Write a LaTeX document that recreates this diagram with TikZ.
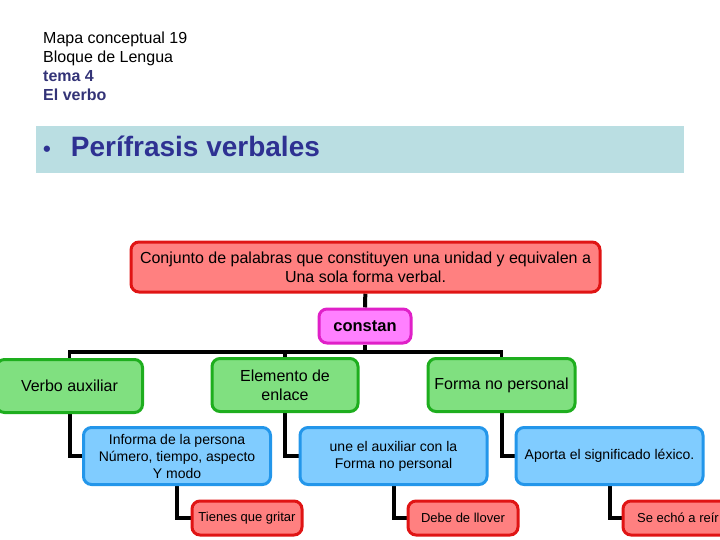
\documentclass[tikz,border=0pt]{standalone}
\usepackage{fontspec}
\setmainfont{Liberation Sans}
\definecolor{redfill}{HTML}{FF8080}
\definecolor{redline}{HTML}{E01414}
\definecolor{pinkfill}{HTML}{FF80FF}
\definecolor{pinkline}{HTML}{E020C8}
\definecolor{greenfill}{HTML}{80E080}
\definecolor{greenline}{HTML}{1EAE1E}
\definecolor{bluefill}{HTML}{80CCFF}
\definecolor{blueline}{HTML}{2396EA}
\definecolor{band}{HTML}{BADEE2}
\definecolor{ink}{HTML}{2E3192}
\definecolor{headink}{HTML}{333377}
\pgfdeclarelayer{background}
\pgfsetlayers{background,main}

\begin{document}
\begin{tikzpicture}[x=1pt, y=-1pt,
                box/.style={draw, rounded corners=8pt, line width=3pt, align=center, inner sep=0pt},
                red node/.style={box, draw=redline, fill=redfill},
                pink node/.style={box, draw=pinkline, fill=pinkfill},
                green node/.style={box, draw=greenline, fill=greenfill, minimum height=53pt,
                  font=\fontsize{16}{19}\selectfont},
                blue node/.style={box, draw=blueline, fill=bluefill, minimum width=187pt,
                  minimum height=57pt, font=\fontsize{14}{17}\selectfont},
                leaf node/.style={red node, minimum width=110pt, minimum height=34pt,
                  font=\fontsize{13}{15}\selectfont},
                head/.style={anchor=base west, inner sep=0pt, font=\fontsize{16}{19}\selectfont},
                link/.style={draw=black, line width=4pt},
                elbow/.style={to path={|- (\tikztotarget) \tikztonodes}},
                branch/.style={to path={-| (\tikztotarget) \tikztonodes}}]

  \useasboundingbox (0,0) rectangle (720,540);
  \clip (0,0) rectangle (720,540);

  % heading
  \node[head] (h1) at (43,44) {Mapa conceptual 19};
  \node[head] (h2) at (43,63) {Bloque de Lengua};
  \node[head, text=headink] (h3) at (43,82) {\bfseries tema 4};
  \node[head, text=headink] (h4) at (43,101) {\bfseries El verbo};

  \fill[band] (36,126) rectangle (684,173);
  \node[anchor=base west, inner sep=0pt, text=ink, font=\fontsize{28}{32}\selectfont\bfseries]
    (title) at (43,157) {{\fontsize{22}{26}\selectfont•}\hspace{20pt}Perífrasis verbales};

  % nodes
  \node[red node, minimum width=469pt, minimum height=50pt, font=\fontsize{16}{19}\selectfont]
    (def) at (365.5,267) {Conjunto de palabras que constituyen una unidad y equivalen a\\Una sola forma verbal.};
  \node[pink node, minimum width=92pt, minimum height=34pt, font=\fontsize{16.5}{19}\selectfont\bfseries]
    (constan) at (365,326) {constan};
  \coordinate (bar) at (365,352);

  \node[green node, minimum width=146pt] (aux) at (69.5,386) {Verbo auxiliar};
  \node[green node, minimum width=146pt] (enlace) at (285,385) {Elemento de\\enlace};
  \node[green node, minimum width=147pt] (forma) at (501.5,385) {Forma no personal};

  \node[blue node] (informa) at (177,456) {Informa de la persona\\Número, tiempo, aspecto\\Y modo};
  \node[blue node] (une) at (393.5,456) {une el auxiliar con la\\Forma no personal};
  \node[blue node] (aporta) at (609.5,456) {Aporta el significado léxico.};

  \node[leaf node] (gritar) at (247,518) {Tienes que gritar};
  \node[leaf node] (llover) at (463,518) {Debe de llover};
  \node[leaf node] (reir) at (678,518) {Se echó a reír};

  \begin{pgfonlayer}{background}
  \path[link]
    (def) edge (constan)
    (constan) edge (bar)
    (bar) edge[branch, line width=3.5pt] (aux.north)
          edge[branch, line width=3.5pt] (enlace.north)
          edge[branch, line width=3.5pt] (forma.north)
    (aux) edge[elbow] (informa.west)
    (enlace) edge[elbow] (une.west)
    (forma) edge[elbow] (aporta.west)
    (informa) edge[elbow] (gritar.west)
    (une) edge[elbow] (llover.west)
    (aporta) edge[elbow] (reir.west);
  \end{pgfonlayer}
\end{tikzpicture}
\end{document}
